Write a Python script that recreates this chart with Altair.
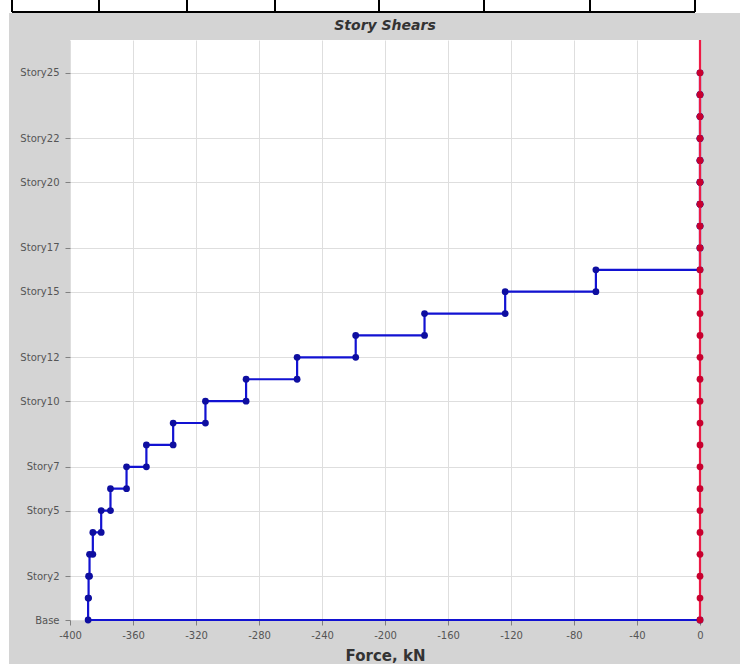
import altair as alt
import pandas as pd

# Storey levels: 0 = Base, 1..25 = Story1..Story25
story_levels = list(range(26))
labelled_levels = [0, 2, 5, 7, 10, 12, 15, 17, 20, 22, 25]
force_ticks = [-400, -360, -320, -280, -240, -200, -160, -120, -80, -40, 0]

# Storey shear for Story1..Story25 (kN)
story_shear = [-388.5, -388.2, -387.6, -385.5, -380.2, -374.3, -364.1, -351.5,
               -334.5, -314.0, -288.2, -255.8, -218.6, -174.9, -123.7, -66.1,
               0.0, 0.0, 0.0, 0.0, 0.0, 0.0, 0.0, 0.0, 0.0]

# Zero-force series plotted at every level
reference_force = [0.0] * len(story_levels)

PLOT_W, PLOT_H = 630, 580

# Step path: each storey's shear is held from its floor up to its top level
rows = []
seq = 0
for k in range(len(story_shear), 0, -1):
    v = story_shear[k - 1]
    rows.append({"force": v, "level": k, "seq": seq})
    seq += 1
    rows.append({"force": v, "level": k - 1, "seq": seq})
    seq += 1
rows.append({"force": 0.0, "level": 0, "seq": seq})
shear_df = pd.DataFrame(rows)
ref_df = pd.DataFrame({"force": reference_force, "level": story_levels})

x_enc = alt.X(
    "force:Q",
    scale=alt.Scale(domain=[-400, 0], nice=False, zero=False),
    axis=alt.Axis(values=force_ticks, labelExpr="'' + datum.value",
                  labelFlush=False, labelPadding=5,
                  title="Force, kN", titlePadding=8),
)
y_enc = alt.Y(
    "level:Q",
    scale=alt.Scale(domain=[0, 26.5], nice=False),
    axis=alt.Axis(values=labelled_levels,
                  labelExpr="datum.value == 0 ? 'Base' : 'Story' + datum.value",
                  title=None, labelPadding=6),
)

# Page furniture around the chart panel: white margin and the table row above
deco_src = alt.Chart(pd.DataFrame({"d": [0]}))
decor = [
    deco_src.mark_rect(color="white").encode(
        x=alt.value(-70), x2=alt.value(670), y=alt.value(-40), y2=alt.value(-27)),
    deco_src.mark_rect(color="white").encode(
        x=alt.value(-70), x2=alt.value(-61), y=alt.value(-40), y2=alt.value(624)),
    deco_src.mark_rule(color="black", strokeWidth=2).encode(
        x=alt.value(-58), x2=alt.value(625), y=alt.value(-28)),
]
for px in [-58, 29, 117, 205, 309, 414, 520, 625]:
    decor.append(
        deco_src.mark_rule(color="black", strokeWidth=2).encode(
            x=alt.value(px), y=alt.value(-40), y2=alt.value(-28)))

shear_line = alt.Chart(shear_df).mark_line(
    color="#1212d2", strokeWidth=2.2).encode(x=x_enc, y=y_enc, order="seq:Q")
shear_pts = alt.Chart(shear_df).mark_point(
    filled=True, color="#0e0ea0", size=46, opacity=1).encode(x=x_enc, y=y_enc)

zero_line = alt.Chart(pd.DataFrame({"force": [0.0]})).mark_rule(
    color="#ee1a45", strokeWidth=2.2).encode(
    x=x_enc, y=alt.value(0), y2=alt.value(PLOT_H))
zero_pts = alt.Chart(ref_df).mark_point(
    filled=True, color="#c8002e", size=46, opacity=1).encode(x=x_enc, y=y_enc)

chart = alt.layer(*decor, shear_line, shear_pts, zero_line, zero_pts).properties(
    width=PLOT_W,
    height=PLOT_H,
    autosize=alt.AutoSizeParams(type="none"),
    padding={"left": 70, "top": 40, "right": 40, "bottom": 44},
    background="#d4d4d4",
    title=alt.TitleParams(
        "Story Shears", fontSize=14, fontWeight="bold", fontStyle="italic",
        font="DejaVu Sans", color="#333333", offset=-34),
).configure_view(
    fill="white", strokeWidth=0
).configure_axis(
    labelFont="DejaVu Sans", labelFontSize=10, labelColor="#555555",
    tickColor="#808080", tickSize=5, gridColor="#dedede", domain=False,
    titleFont="DejaVu Sans", titleFontSize=15, titleFontWeight="bold",
    titleColor="#333333",
)

chart.save("out.html", embed_options={"renderer": "svg", "actions": False})
